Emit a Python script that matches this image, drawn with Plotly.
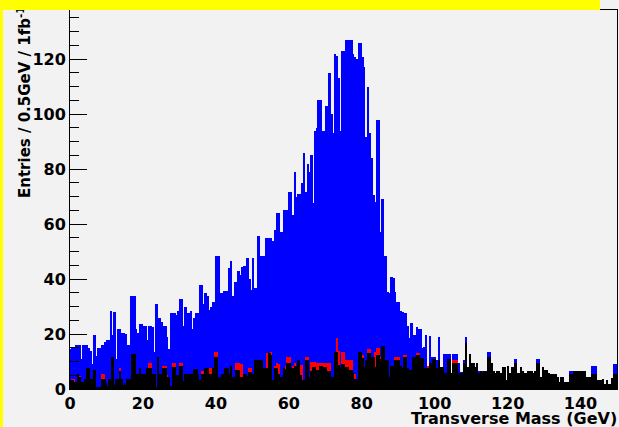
import plotly.graph_objects as go

# Histogram binning: 300 bins of 0.5 GeV from 0 to 150 GeV
bin_low = 0.0
bin_width = 0.5

# Blue histogram (all entries)
blue_counts = [
    14.5, 15, 15, 16, 16, 16, 11, 16, 16, 16,
    15, 14, 9, 19.5, 12, 15, 15, 16, 16, 17,
    18, 18, 28.5, 19.5, 28, 11, 22, 22, 20.5, 20.5,
    20, 16, 16, 34, 34, 34, 22, 20.5, 23.5, 23.5,
    23, 23, 18, 23, 23, 22.5, 13.5, 31, 26, 26,
    24.5, 23, 23, 19, 14.5, 27.5, 27.5, 27.5, 27, 28.5,
    32.6, 32.6, 23, 30, 27.5, 27.5, 28.5, 22, 26, 27.8,
    27.8, 37.8, 37.8, 31, 34.8, 34, 28.7, 30, 31.8, 31.8,
    48.4, 48.4, 34.8, 34.8, 35.6, 35.6, 35.6, 43.9, 46.7, 33.8,
    39, 39, 43, 41.5, 44.2, 44.7, 44.7, 47.5, 40, 36,
    47.5, 36.6, 36.6, 55.6, 48.4, 48.4, 48.4, 55, 55, 54.8,
    54.8, 54, 57.8, 63.9, 63.9, 57.2, 57.2, 65, 65, 65,
    71.8, 71.8, 63.3, 78.8, 70, 71, 71, 74.8, 86, 71.8,
    82, 79, 85, 67.8, 94, 94.8, 105, 105, 94, 94,
    103, 103, 114.8, 100, 93, 122, 121, 113, 94, 123,
    123, 127, 127, 127, 127, 121.8, 120.8, 120, 126, 126,
    120.8, 117, 91.8, 110, 93, 84, 70.5, 68, 98, 98,
    57, 69, 48.5, 48.5, 35.4, 35, 40.8, 40.5, 35.4, 31.8,
    31.8, 28.4, 28, 27.5, 27.5, 23, 18.5, 24, 19.6, 19.6,
    22.7, 22, 22, 15, 15.4, 19.6, 8, 19.3, 11.8, 11.8,
    11.8, 10.5, 18.8, 8, 8, 12.7, 12.7, 12.7, 12.7, 5.7,
    12.7, 12.7, 12.7, 9.3, 6.3, 6.3, 10.5, 19, 8, 12.7,
    9.3, 9.3, 8, 9.3, 6.7, 6.7, 6.7, 6.7, 6.7, 13.3,
    13.3, 9.3, 6.7, 5.7, 6.7, 6.7, 5.7, 8, 8, 3.3,
    8.2, 5.7, 8, 8, 10.8, 5.7, 5.7, 8, 6.7, 6,
    5.7, 6.7, 6.7, 6.7, 5.7, 6.7, 10.8, 10.8, 4.5, 8,
    7, 7, 5.7, 5.3, 5.3, 5.3, 5.3, 4.5, 2.7, 4.5,
    4.5, 2.7, 2.7, 2.7, 6.7, 6.7, 6.7, 6.7, 6.7, 6.7,
    6.7, 6.7, 6.7, 4.5, 4.5, 4.5, 8.5, 8.5, 8.5, 3.3,
    3.3, 3.3, 3.5, 2, 3.3, 2, 2, 4, 9, 9,
]

# Red histogram (only visible where it exceeds the black one)
red_counts = [
    0, 3.8, 3.8, 0, 0, 4.8, 0, 0, 0, 0,
    0, 0, 0, 0, 0, 0, 0, 5.5, 5.5, 0,
    0, 0, 0, 0, 0, 0, 0, 7.5, 0, 0,
    0, 0, 0, 0, 0, 0, 0, 0, 0, 0,
    0, 0, 0, 9.3, 9.3, 0, 0, 0, 0, 0,
    0, 8.5, 8.5, 5, 0, 0, 9.3, 9.3, 0, 0,
    9.3, 9.3, 0, 0, 0, 0, 0, 0, 0, 0,
    0, 0, 6.7, 6.7, 0, 0, 7.5, 7.5, 0, 13.3,
    13.3, 0, 0, 0, 0, 0, 0, 0, 0, 0,
    0, 9.3, 9.3, 9, 9, 0, 0, 0, 7.5, 7.5,
    0, 0, 0, 0, 0, 0, 0, 0, 13.2, 13.2,
    13.3, 0, 8.5, 9.3, 9, 0, 0, 0, 8.3, 11.5,
    11.5, 0, 8.5, 9.3, 0, 0, 8.7, 8.7, 0, 11.5,
    11.5, 0, 9.7, 9.7, 9.7, 9.3, 9.3, 9.3, 9.3, 9.3,
    9.3, 9.3, 9.3, 0, 0, 0, 18.5, 14, 0, 13.6,
    13.6, 10.5, 10.5, 10.5, 10.5, 0, 5.5, 0, 13.6, 13.6,
    12.4, 7.9, 7.9, 14.4, 14.4, 0, 0, 13.6, 14.8, 14.8,
    11.8, 0, 0, 0, 0, 0, 0, 0, 11.5, 11.5,
    11.5, 0, 0, 12.4, 12.4, 0, 0, 0, 0, 0,
    13.2, 13.2, 0, 0, 0, 0, 8.4, 0, 0, 0,
    0, 0, 0, 0, 0, 0, 0, 0, 0, 0,
    10.5, 10.5, 10.5, 0, 0, 0, 0, 0, 0, 0,
    0, 0, 0, 0, 0, 0, 0, 0, 0, 0,
    0, 0, 0, 0, 0, 0, 0, 0, 0, 0,
    0, 0, 0, 0, 0, 0, 0, 0, 0, 0,
    0, 0, 0, 0, 0, 0, 0, 0, 0, 0,
    0, 0, 0, 0, 0, 0, 0, 0, 0, 0,
    0, 0, 0, 0, 0, 0, 0, 0, 0, 0,
    0, 0, 0, 0, 0, 0, 0, 0, 0, 0,
    0, 0, 0, 0, 0, 0, 0, 0, 0, 0,
]

# Black histogram (background)
black_counts = [
    3.3, 3.3, 2.7, 2.7, 5.5, 4.5, 2.7, 2.7, 3.5, 7.5,
    7.5, 3.5, 3.5, 6.9, 0.5, 0.6, 0.6, 3.5, 3.5, 3.5,
    1, 3.5, 3.5, 11.5, 1.5, 3.5, 3.5, 6.7, 3.5, 1.5,
    1.5, 3.5, 3.8, 3.5, 12.6, 12.6, 5.5, 5.5, 7.5, 5.5,
    5.5, 5.5, 7.5, 7.5, 7.5, 5.5, 5.5, 0.7, 11.5, 5.5,
    5.5, 7.5, 7.5, 4.5, 4.5, 1, 8.1, 8.1, 5.1, 5.1,
    8.4, 8.4, 3, 5.5, 5.5, 5.5, 5.5, 5.5, 7.3, 7.3,
    5.5, 3.3, 5.5, 5.5, 7.5, 7.5, 5.5, 5.5, 7.5, 11.5,
    11.5, 4.5, 4.5, 5.5, 5.5, 7.5, 7.5, 5.5, 8.4, 4.3,
    4.3, 6.9, 6.9, 4.5, 4.5, 5.5, 5.5, 4.8, 6.3, 6.3,
    5.5, 10.5, 10.5, 10.5, 10.5, 10.5, 7.5, 7.5, 7.5, 13,
    12.4, 3.3, 7.5, 7.5, 5.5, 4.5, 4.5, 7.5, 7.2, 9.6,
    9.6, 7.5, 7.5, 8.2, 8.2, 10.5, 5, 3.3, 3.3, 10.5,
    10.5, 4.5, 6.5, 8.1, 8.1, 6.9, 6.9, 8.2, 8.2, 8.1,
    8.1, 6.5, 6.5, 4.5, 4.5, 13.6, 13.6, 8.8, 8.1, 9,
    9, 8.1, 8.1, 6.9, 6.9, 5.7, 3.5, 3.5, 13.6, 13.6,
    11.2, 8.1, 10.5, 13.2, 13.2, 11.8, 11.8, 8, 12.4, 12.4,
    10.8, 15.6, 15.6, 10.5, 10.5, 4.5, 8.4, 8.4, 10.5, 10.5,
    10.5, 8.4, 7.5, 11.5, 11.5, 7.5, 6.9, 6.9, 11.5, 11.5,
    12.4, 12.4, 11.2, 11.2, 7.5, 7.5, 7.5, 9.3, 9.3, 10.8,
    10.8, 7.5, 10.5, 8, 8, 5.7, 5.7, 10.8, 10.8, 5.7,
    9.3, 9.3, 9.3, 5.7, 5.7, 5.7, 9.3, 16.6, 8, 12.7,
    9.3, 9.3, 8, 9.3, 5.7, 6.7, 5.7, 6.7, 6.7, 11.8,
    11.8, 9.3, 6.7, 5.7, 6.7, 6.7, 5.7, 8, 8, 3.3,
    8.2, 5.7, 8, 8, 9.3, 5.7, 5.7, 8, 6.7, 6,
    5.7, 6.7, 6.7, 6.7, 5.7, 6.7, 9.3, 9.3, 4.5, 8,
    7, 7, 5.7, 5.3, 5.3, 5.3, 5.3, 4.5, 2.7, 4.5,
    4.5, 2.7, 2.7, 2.7, 5.5, 5.5, 6.7, 6.7, 6.7, 6.7,
    6.7, 6.7, 6.7, 4.5, 4.5, 4.5, 5.5, 5.5, 5.5, 3.3,
    3.3, 3.3, 3.5, 2, 3.3, 2, 2, 4, 5.5, 5.5,
]

x_ticks = [0, 20, 40, 60, 80, 100, 120, 140]
y_ticks = [0, 20, 40, 60, 80, 100, 120]
x_title = "Transverse Mass (GeV)"
y_title = "Entries / 0.5GeV / 1fb<sup>-1</sup>"

centers = [bin_low + bin_width * (i + 0.5) for i in range(len(blue_counts))]

W, H = 619, 427
L, R, T, B = 70, 2, 10, 38
pw, ph = W - L - R, H - T - B


def px_x(p):
    return (p - L) / pw


def px_y(p):
    return (H - B - p) / ph


BG = "#f2f2f2"
FONT = "DejaVu Sans"

fig = go.Figure()
for vals, col in [(blue_counts, "#0000ff"), (red_counts, "#ff0000"), (black_counts, "#000000")]:
    fig.add_trace(go.Bar(x=centers, y=vals, width=bin_width,
                         marker=dict(color=col, line=dict(width=0)),
                         hoverinfo="skip"))

axis_common = dict(showline=True, linecolor="black", linewidth=1, showgrid=False,
                   zeroline=False, ticks="inside", tickcolor="black", mirror=True,
                   tickfont=dict(family=FONT, size=16, color="black", weight="bold"))

fig.update_layout(
    width=W, height=H,
    margin=dict(l=L, r=R, t=T, b=B, pad=0),
    paper_bgcolor=BG, plot_bgcolor=BG,
    barmode="overlay", bargap=0, showlegend=False,
    xaxis=dict(range=[0, 150], tickvals=x_ticks, ticklen=11,
               minor=dict(ticks="inside", ticklen=6, dtick=5, tickcolor="black", showgrid=False),
               **axis_common),
    yaxis=dict(range=[0, ph / 2.75], tickvals=y_ticks, ticklen=17,
               minor=dict(ticks="inside", ticklen=9, dtick=5, tickcolor="black", showgrid=False),
               **axis_common),
)

fig.add_annotation(text=f"<b>{x_title}</b>", xref="paper", yref="paper",
                   x=px_x(619), y=px_y(418), xanchor="right", yanchor="middle",
                   showarrow=False, font=dict(family=FONT, size=16, color="black"))
fig.add_annotation(text=f"<b>{y_title}</b>", xref="paper", yref="paper",
                   x=px_x(24), y=px_y(200), xanchor="center", yanchor="bottom",
                   textangle=-90, showarrow=False,
                   font=dict(family=FONT, size=15, color="black"))
# yellow bar on top (drawn after title so it covers it)
fig.add_annotation(text=" ", xref="paper", yref="paper",
                   x=px_x(0), y=px_y(0), xanchor="left", yanchor="top",
                   width=600, height=10, bgcolor="#ffff00", borderpad=0, borderwidth=0,
                   showarrow=False, font=dict(size=1))
fig.add_shape(type="rect", xref="paper", yref="paper", layer="above",
              x0=px_x(0), x1=px_x(3), y0=px_y(H), y1=px_y(0),
              fillcolor="#ffff00", line=dict(width=0))

fig.write_html("out.html")
